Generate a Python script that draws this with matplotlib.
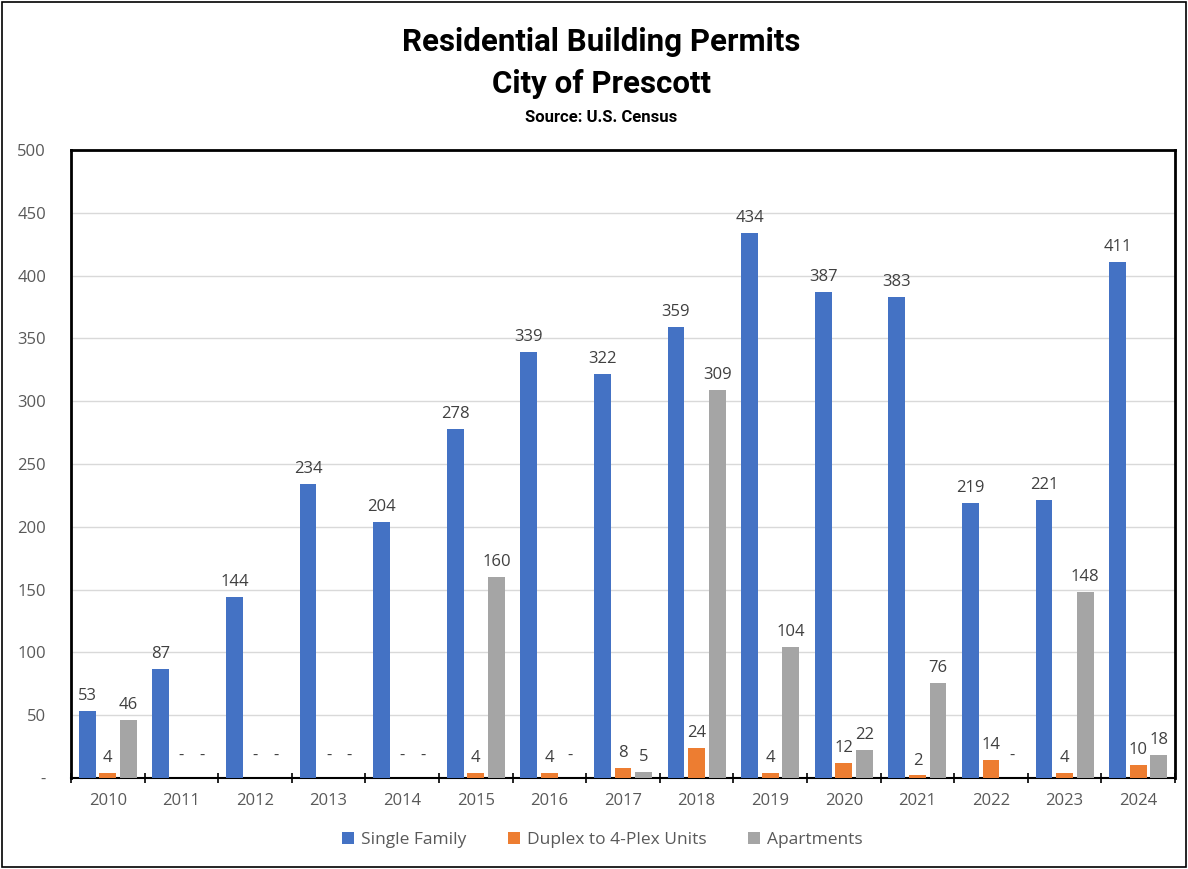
import numpy as np
import matplotlib.pyplot as plt
from matplotlib.patches import Rectangle

years = ["2010", "2011", "2012", "2013", "2014", "2015", "2016", "2017",
         "2018", "2019", "2020", "2021", "2022", "2023", "2024"]
single_family = [53, 87, 144, 234, 204, 278, 339, 322, 359, 434, 387, 383, 219, 221, 411]
duplex = [4, 0, 0, 0, 0, 4, 4, 8, 24, 4, 12, 2, 14, 4, 10]
apartments = [46, 0, 0, 0, 0, 160, 0, 5, 309, 104, 22, 76, 0, 148, 18]

series = [("Single Family", single_family, "#4472C4"),
          ("Duplex to 4-Plex Units", duplex, "#ED7D31"),
          ("Apartments", apartments, "#A5A5A5")]

plt.rcParams['font.family'] = ['Open Sans', 'DejaVu Sans']

fig = plt.figure(figsize=(11.88, 8.69), dpi=100)
ax = fig.add_axes([71 / 1188, 1 - 778 / 869, (1175 - 71) / 1188, (778 - 150) / 869])

x = np.arange(len(years))
width = 0.23
offsets = [-0.28, 0, 0.28]

for (name, vals, col), off in zip(series, offsets):
    bars = ax.bar(x + off, vals, width, color=col, label=name, zorder=3)
    for b, v in zip(bars, vals):
        if v == 0:
            ax.text(b.get_x() + b.get_width() / 2, 11, "-", ha="center", va="bottom",
                    fontsize=12, color="#404040")
        else:
            ax.annotate(str(v), (b.get_x() + b.get_width() / 2, v), xytext=(0, 5),
                        textcoords="offset points", ha="center", va="bottom",
                        fontsize=12, color="#404040")

ax.set_xlim(-0.5, len(years) - 0.5)
ax.set_ylim(0, 500)
ax.set_yticks(np.arange(0, 501, 50))
ax.set_yticklabels(["-"] + [str(v) for v in range(50, 501, 50)])
ax.yaxis.grid(True, color="#D9D9D9", linewidth=1, zorder=0)
ax.tick_params(axis="y", length=0, pad=18, labelsize=12, labelcolor="#595959")

ax.set_xticks(x)
ax.set_xticklabels(years)
ax.set_xticks(np.arange(-0.5, len(years), 1), minor=True)
ax.tick_params(axis="x", which="major", length=0, pad=11, labelsize=12, labelcolor="#595959")
ax.tick_params(axis="x", which="minor", length=7, width=1.2, direction="inout", color="black")

for side in ["top", "left", "right"]:
    ax.spines[side].set_linewidth(2)
    ax.spines[side].set_color("black")
ax.spines["bottom"].set_linewidth(1.5)

title_font = ["Roboto", "DejaVu Sans"]
fig.text(0.506, 1 - 42 / 869, "Residential Building Permits", ha="center", va="center",
         fontsize=22.5, fontweight="bold", family=title_font)
fig.text(0.506, 1 - 84 / 869, "City of Prescott", ha="center", va="center",
         fontsize=22.5, fontweight="bold", family=title_font)
fig.text(0.506, 1 - 117 / 869, "Source: U.S. Census", ha="center", va="center",
         fontsize=12, fontweight="bold", family=title_font)

fig.legend(loc="center", bbox_to_anchor=(0.507, 1 - 840 / 869), ncol=3, frameon=False,
           fontsize=12.5, handlelength=0.7, handleheight=0.7, columnspacing=2.4,
           handletextpad=0.4, labelcolor="#595959")

fig.patches.append(Rectangle((2 / 1188, 2 / 869), 1 - 4 / 1188, 1 - 4 / 869,
                             transform=fig.transFigure, fill=False, edgecolor="black",
                             linewidth=1.2))

fig.savefig("out.png", dpi=100)
